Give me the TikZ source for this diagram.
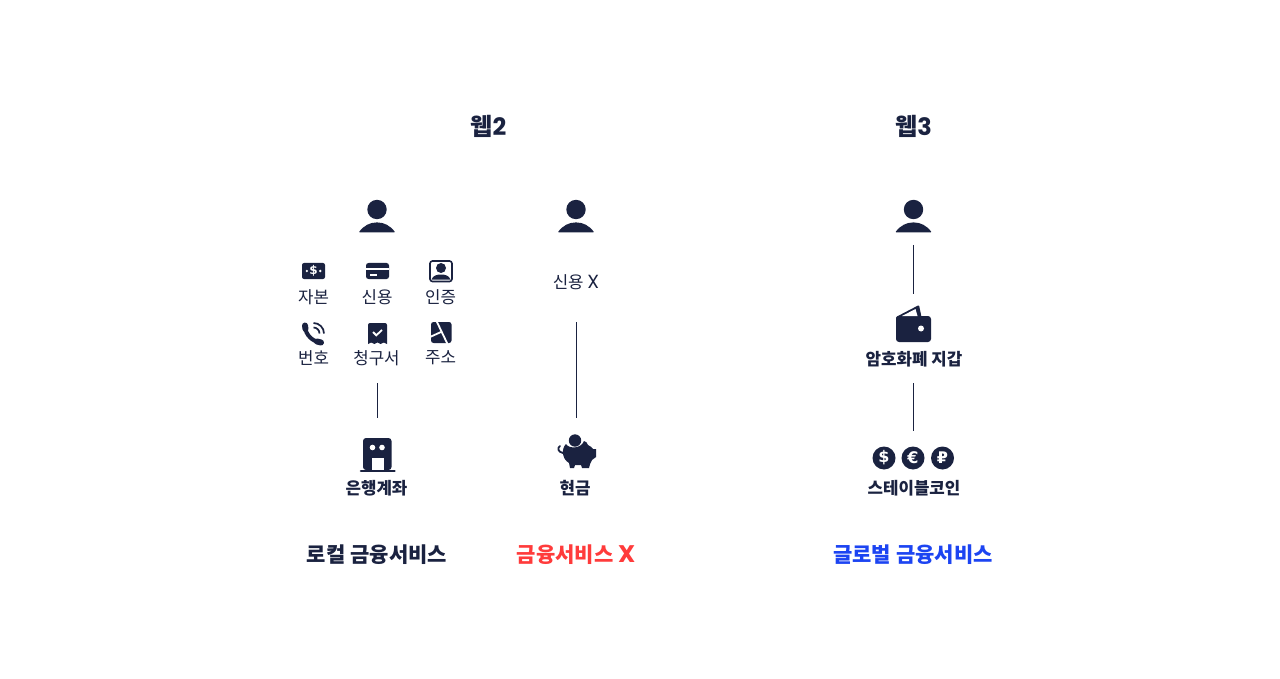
\documentclass[tikz,border=0pt]{standalone}
\usepackage{fontspec}
\newfontfamily\krfont{Noto Sans CJK KR}
\newfontfamily\latinfont{Poppins}
\newfontfamily\coinfont{DejaVu Sans}
\definecolor{navy}{HTML}{1A2240}
\definecolor{alertred}{HTML}{FF3B3B}
\definecolor{globalblue}{HTML}{1C44F2}
\tikzset{
    small/.style={font=\krfont\fontsize{16.8}{17}\selectfont, text=navy, inner sep=0pt},
    strong/.style={font=\krfont\bfseries\fontsize{16.8}{17}\selectfont, text=navy, inner sep=0pt},
    service/.style={font=\krfont\bfseries\fontsize{21}{21}\selectfont, inner sep=0pt},
    heading/.style={font=\krfont\bfseries\fontsize{24}{24}\selectfont, text=navy, inner sep=0pt},
    link/.style={draw=navy, line width=1.5pt},
    coin/.style={circle, fill=navy, minimum size=23pt, inner sep=0pt, text=white, font=\coinfont\bfseries\fontsize{16}{16}\selectfont},
    person/.pic={
        \fill[navy] (0,-0.5) circle (9.7);
        \fill[navy, rounded corners=0.8pt] (-18.2,22.3) .. controls (-13,15.5) and (-7,12.5) .. (0,12.5) .. controls (7,12.5) and (13,15.5) .. (18.2,22.3) -- cycle;
    }
}
\begin{document}
\begin{tikzpicture}[x=1pt, y=-1pt]
    % Page
    \useasboundingbox[fill=white] (0,0) rectangle (1280,679);

    % Column headings
    \node[heading] (web2) at (488.5,126) {웹{\latinfont\bfseries 2}};
    \node[heading] (web3) at (913.5,126) {웹{\latinfont\bfseries 3}};

    % Users
    \pic at (377,210) {person};
    \pic at (576,210) {person};
    \pic at (913.5,210) {person};

    % Money icon
    \fill[navy, rounded corners=2pt] (302,263) rectangle (325,279);
    \node[inner sep=0pt, text=white, font=\coinfont\bfseries\fontsize{12}{12}\selectfont] (moneysign) at (313.5,271) {\$};
    \fill[white] (306.8,271) circle (1.3);
    \fill[white] (320.2,271) circle (1.3);

    % Card icon
    \fill[navy, rounded corners=2.5pt] (366,263) rectangle (389,279);
    \fill[white] (366,267.5) rectangle (389,270);
    \fill[white] (370,274) rectangle (377,275.5);

    % Identity icon
    \draw[navy, line width=1.6pt, rounded corners=2.5pt] (430,261) rectangle (452,281.5);
    \fill[navy] (441,268) circle (5);
    \fill[navy] (431.5,279.5) .. controls (433,275.5) and (437,274.5) .. (441,274.5) .. controls (445,274.5) and (449,275.5) .. (450.5,279.5) -- cycle;

    % Phone icon
    \draw[navy, line width=4pt] (305,326.5) .. controls (305.5,335) and (313,342) .. (321,342.5);
    \draw[navy, line width=6pt, line cap=round] (305,325.5) -- (305.5,329);
    \draw[navy, line width=6pt, line cap=round] (317,341.5) -- (321,342.5);
    \draw[navy, line width=1.7pt] (313.5,327.5) arc (-90:0:6);
    \draw[navy, line width=1.7pt] (313.5,323) arc (-90:0:10.5);

    % Receipt icon
    \fill[navy] (368,344) -- (368,325) arc (180:270:2) -- (385,323) arc (270:360:2) -- (387,344) -- (383.8,342.5) -- (380.6,344) -- (377.5,342.5) -- (374.4,344) -- (371.2,342.5) -- cycle;
    \draw[white, line width=1.8pt] (373,332) -- (376.3,335.3) -- (382,330);

    % Map icon
    \fill[navy, rounded corners=2.5pt] (431,322) rectangle (451.5,343);
    \draw[white, line width=1.8pt] (436.5,321) -- (447.5,344);
    \draw[white, line width=1.8pt] (430,337) -- (441,332);

    % Document labels
    \node[small] (capital) at (313.5,297) {자본};
    \node[small] (credit) at (377,297) {신용};
    \node[small] (identity) at (440.5,297) {인증};
    \node[small] (phone) at (313.5,358) {번호};
    \node[small] (bill) at (376.5,358) {청구서};
    \node[small] (address) at (440.5,358) {주소};
    \node[small] (nocredit) at (576,282) {신용 {\latinfont\fontsize{19}{19}\selectfont X}};

    % Connector ends
    \coordinate (bankA) at (377.4,383);
    \coordinate (bankB) at (377.4,418);
    \coordinate (cashA) at (576.4,322);
    \coordinate (cashB) at (576.4,418);
    \coordinate (userC) at (913.4,245);
    \coordinate (walletA) at (913.4,294);
    \coordinate (walletB) at (913.4,383);
    \coordinate (stableA) at (913.4,431);

    % Connectors
    \draw[link] (bankA) -- (bankB);
    \draw[link] (cashA) -- (cashB);
    \draw[link] (userC) -- (walletA);
    \draw[link] (walletB) -- (stableA);

    % Bank icon
    \fill[navy, rounded corners=3pt] (363,470) -- (363,438) -- (391.5,438) -- (391.5,470) -- cycle;
    \draw[navy, line width=2.6pt, line cap=round] (361,471) -- (394.5,471);
    \fill[white] (372.5,447.5) circle (2.8);
    \fill[white] (382,447.5) circle (2.8);
    \fill[white] (372,458) rectangle (383.5,470);

    % Piggy icon
    \fill[navy] (570,468) -- (569,463) .. controls (562,459) and (561,449) .. (566,444) .. controls (569,449) and (581,449) .. (584,441) .. controls (586,441) and (587,443) .. (588,445) .. controls (591,446) and (592,448) .. (593,449) -- (596,449) -- (596,457) -- (592,460) .. controls (590,463) and (590,465) .. (589,468) -- (582,468) -- (581,465) -- (575,465) -- (574,468) -- cycle;
    \fill[navy] (575,440.5) circle (6.2);
    \draw[navy, line width=1.8pt, line cap=round] (563,453) .. controls (558,452) and (557,448) .. (560,446);

    % Wallet icon
    \fill[navy, rounded corners=3pt] (896,342) -- (896,316) -- (931,316) -- (931,342) -- cycle;
    \fill[navy, rounded corners=1pt] (896,322) -- (896,317) -- (919,305) -- (921.5,317) -- cycle;
    \fill[white] (902,316) -- (915.5,309) -- (917.5,316) -- cycle;
    \fill[white] (921,328.5) circle (3);

    % Stablecoins
    \node[coin] (dollar) at (884,458) {\$};
    \node[coin] (euro) at (913,458) {€};
    \node[coin] (ruble) at (942.5,458) {₽};

    % Asset labels
    \node[strong] (bank) at (376.5,488.5) {은행계좌};
    \node[strong] (cash) at (575,488.5) {현금};
    \node[strong] (wallet) at (914,359) {암호화폐 지갑};
    \node[strong] (stable) at (914,488) {스테이블코인};

    % Service labels
    \node[service, text=navy] (local) at (377,555) {로컬 금융서비스};
    \node[service, text=alertred] (noservice) at (576,555) {금융서비스 {\latinfont\bfseries\fontsize{24}{24}\selectfont X}};
    \node[service, text=globalblue] (global) at (913,555) {글로벌 금융서비스};
\end{tikzpicture}
\end{document}
